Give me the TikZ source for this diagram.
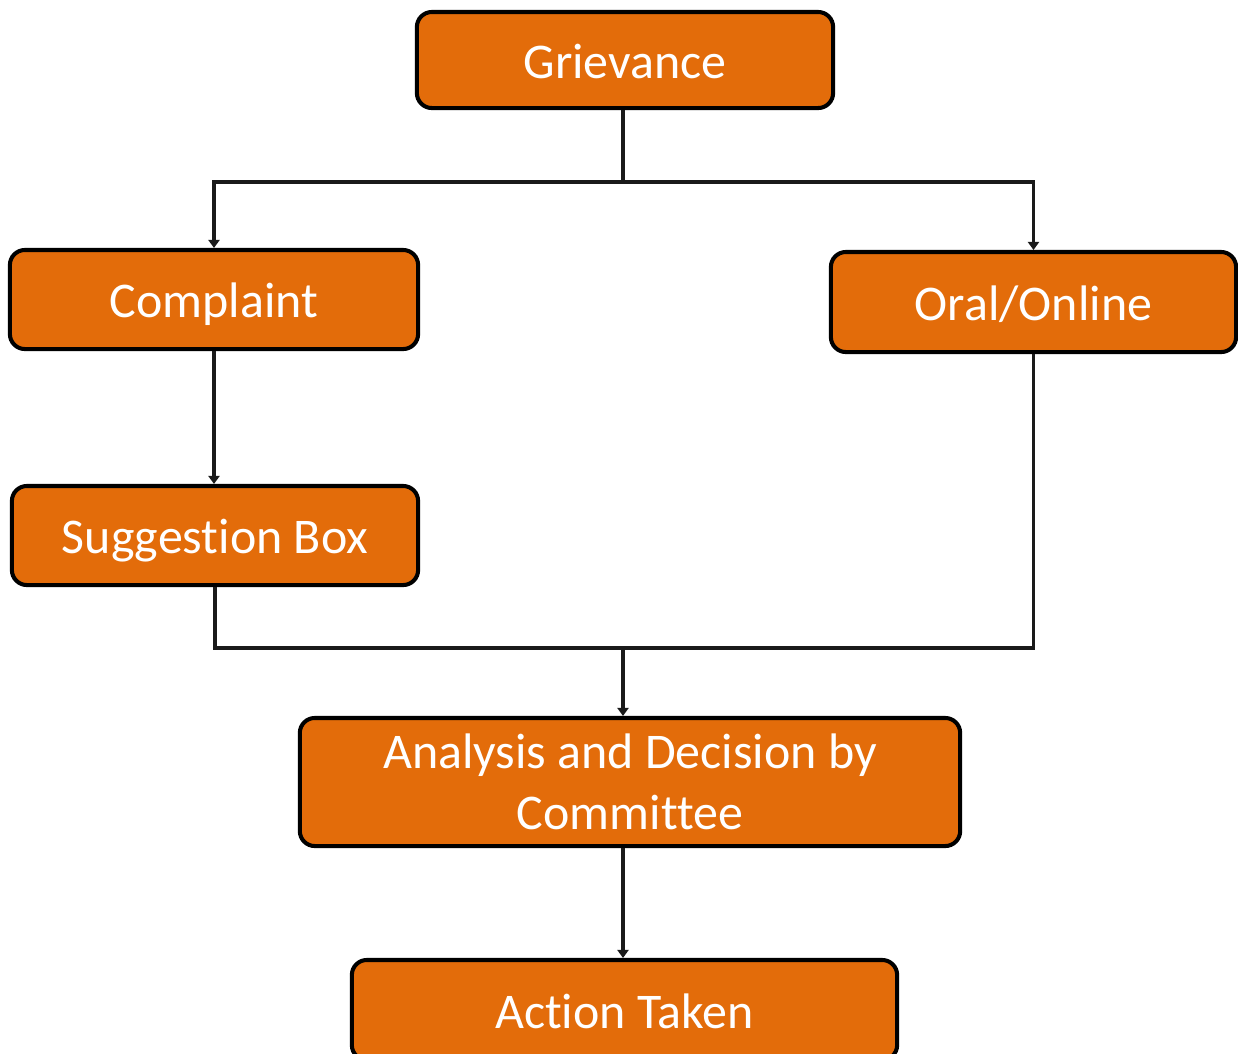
\documentclass[tikz,border=0pt]{standalone}
\usepackage{fontspec}
\setmainfont[Ligatures=NoCommon]{Carlito}
\usetikzlibrary{arrows.meta}
\definecolor{boxorange}{HTML}{E36C0A}
\definecolor{linegray}{HTML}{1A1A1A}
\tikzset{
  fbox/.style={draw=black, line width=1.15pt, fill=boxorange, rounded corners=0.15cm,
    text=white, font=\fontsize{14.2pt}{16.5pt}\selectfont, align=center, inner sep=0pt,
    text height=0.36cm, text depth=0cm},
  conn/.style={draw=linegray, line width=1.1pt},
  arr/.style={conn, -{Triangle[length=0.08cm,width=0.11cm]}}
}
\begin{document}
\begin{tikzpicture}[x=0.01cm,y=-0.01cm]
\useasboundingbox (0,0) rectangle (1238,1053);
\begin{scope}
\clip (0,0) rectangle (1238,1053);
\node[fbox, minimum width=4.16cm, minimum height=0.96cm] (g) at (625,60) {Grievance};
\node[fbox, minimum width=4.08cm, minimum height=0.99cm] (c) at (214,299.5) {Complaint};
\node[fbox, minimum width=4.05cm, minimum height=1.0cm] (o) at (1033.5,302) {Oral/Online};
\node[fbox, minimum width=4.06cm, minimum height=0.99cm] (s) at (215,535.5) {Suggestion Box};
\node[fbox, text height={}, text depth={}, minimum width=6.6cm, minimum height=1.28cm, font=\fontsize{14.2pt}{17.4pt}\selectfont] (a) at (630,782) {Analysis and Decision by\\Committee};
\node[fbox, minimum width=5.45cm, minimum height=1.0cm] (t) at (624.5,1010) {Action Taken};
\end{scope}
\coordinate (j1) at (623,182);
\coordinate (j2) at (623,648);
\draw[conn] (g.south -| j1) -- (j1);
\draw[arr] (j1) -| (c.north);
\draw[arr] (j1) -| (o.north);
\draw[arr] (c.south) -- (c.south |- s.north);
\draw[conn] (s.south) |- (j2) -| (o.south);
\draw[arr] (j2) -- (j2 |- a.north);
\draw[arr] (a.south -| j2) -- (j2 |- t.north);
\end{tikzpicture}
\end{document}
